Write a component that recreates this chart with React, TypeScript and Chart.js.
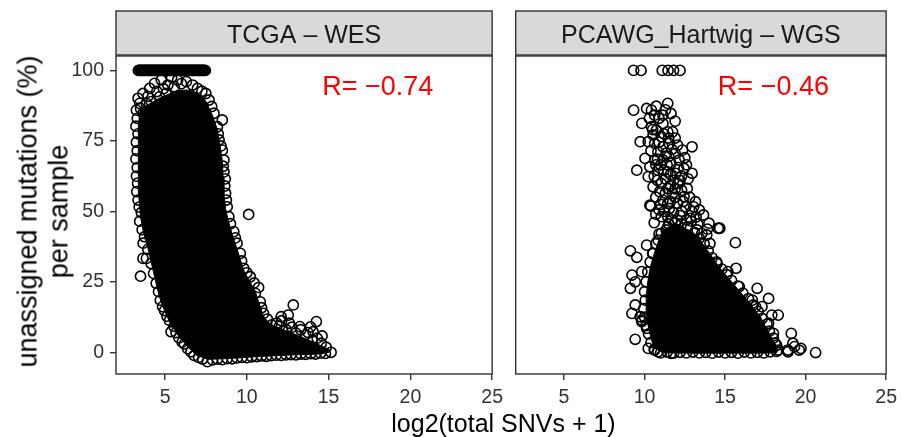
import React, { useEffect, useRef } from 'react';
import { Chart, registerables } from 'chart.js';
Chart.register(...registerables);

// ---------- axes ----------
const xTicks = [5, 10, 15, 20, 25];
const yTicks = [0, 25, 50, 75, 100];
const xRange = [2, 25];
const yRange = [-7.7, 105.1];
const panelTitles = ['TCGA – WES', 'PCAWG_Hartwig – WGS'];
const rLabels = ['R= −0.74', 'R= −0.46'];
const rLabelAt = [18, 91.2];
const xTitle = 'log2(total SNVs + 1)';
const yTitle = ['unassigned mutations (%)', 'per sample'];

// ---------- TCGA – WES ----------
const tcgaTopX = [3.37,3.42,3.48,3.55,3.6,3.66,3.73,3.79,3.84,3.9,3.97,4.03,4.08,4.15,4.21,4.26,4.33,4.39,4.45,4.5,4.57,4.63,4.69,4.74,4.81,4.87,4.92,4.99,5.05,5.11,5.16,5.23,5.29,5.34,5.41,5.47,5.52,5.59,5.65,5.71,5.76,5.83,5.89,5.94,6.01,6.07,6.12,6.19,6.25,6.31,6.36,6.43,6.49,6.54,6.61,6.67,6.72,6.79,6.85,6.91,6.96,7.03,7.09,7.14,7.21,7.27,7.32,7.39,7.46];
const tcgaFringe = [[3.35,90.1],[3.65,91.8],[4.06,93.6],[4.36,95.4],[4.77,96.6],[5.17,94.8],[5.57,94.2],[5.77,96.6],[3.45,88.3],[3.86,88.3],[4.16,88.9],[4.66,90.6],[5.06,91.8],[3.25,85.9],[3.65,84.8],[4.5,92.5],[3.95,90.8],[6.0,95.3],[6.3,96],[6.68,94.8],[6.98,93.6],[7.25,92.6],[7.49,91.8],[7.69,89.5],[7.85,87.2],[7.99,84.8],[5.4,97.5],[4.9,93.5],[3.5,86.5]];
const tcgaLeft = [[3.3,83],[3.22,80.2],[3.35,77.5],[3.25,74.5],[3.3,71.5],[3.22,68.6],[3.3,65.5],[3.25,62.5],[3.32,60],[3.27,57],[3.35,54],[3.42,51.5],[3.55,49.6],[3.45,46.5],[3.6,43.5],[3.66,38.7],[3.65,33.3],[3.86,33.3],[3.5,27],[3.75,41],[3.95,36.5],[4.15,31.5],[4.3,28],[4.46,24.5],[4.6,21.5],[4.71,18.5],[4.85,16.2],[4.97,14.8],[5.12,12.8],[5.27,11.3],[5.37,7.3],[5.67,7.0],[5.55,9.2],[5.85,5.1],[6.05,3.6],[6.18,3.0],[6.38,1.3],[6.58,0.2],[6.78,-1.1],[7.05,-1.8],[7.3,-2.4],[7.59,-3.3]];
const tcgaBottom = [[7.9,-2.7],[8.2,-2.4],[8.5,-2.6],[8.8,-2.2],[9.1,-2.3],[9.4,-2.0],[9.7,-1.8],[10.0,-1.9],[10.3,-1.6],[10.6,-1.5],[10.9,-1.3],[11.2,-1.4],[11.5,-1.2],[11.8,-1.0],[12.1,-1.1],[12.4,-0.9],[12.7,-0.8],[13.0,-0.9],[13.3,-0.6],[13.6,-0.7],[13.9,-0.5],[14.2,-0.6],[14.5,-0.3],[14.8,-0.4],[15.15,0]];
const tcgaRight = [[8.5,82.4],[8.2,80],[8.25,77.5],[8.3,75.3],[8.42,73.2],[8.5,71.7],[8.6,68.2],[8.55,66],[8.6,64],[8.68,61.5],[8.65,59],[8.7,56.4],[8.75,54],[8.8,51.6],[8.9,48.1],[10.11,48.9],[9.0,45.6],[9.2,42.8],[9.3,40.6],[9.4,38.7],[9.6,35.1],[9.68,32.4],[9.81,29.8],[10.0,28.2],[10.21,26.8],[10.45,24.6],[10.72,23.0],[10.52,20.9],[10.82,17.9],[10.9,15.8],[11.02,13.8],[11.25,11.8],[11.52,9.7],[11.83,10.3]];
const tcgaTail = [[12.13,11.2],[12.1,12.6],[12.53,13.2],[12.84,16.8],[12.6,10.3],[12.75,8.9],[13.24,9.1],[13.3,8.0],[13.6,6.2],[13.74,7.0],[14.05,7.3],[14.25,10.9],[14.3,5.0],[14.55,3.2],[14.85,1.8],[14.0,4.2],[12.4,8.0],[12.0,9.3],[13.0,6.8],[14.6,5.8],[13.9,9.0]];
const tcgaCore = [[3.45,86],[4.0,88],[4.6,90],[5.2,91.5],[5.8,93],[6.4,93],[7.0,92],[7.5,89],[7.9,84],[8.2,79],[8.35,74],[8.5,68],[8.55,62],[8.6,56],[8.7,51],[8.85,47],[9.1,42],[9.35,37.5],[9.6,33],[9.85,28.5],[10.2,25],[10.55,21],[10.8,16.5],[11.0,13],[11.4,10],[12.0,8.5],[12.7,7],[13.5,5],[14.3,3],[14.9,1.2],[15.0,0],[14.5,-0.6],[13.5,-0.8],[12.5,-1],[11.5,-1.3],[10.5,-1.6],[9.5,-2],[8.5,-2.3],[7.6,-2.5],[6.9,-1],[6.3,2.5],[5.8,6],[5.4,9.5],[5.1,13],[4.8,17],[4.55,22],[4.35,27],[4.15,32],[3.95,37],[3.7,42],[3.5,48],[3.4,55],[3.35,65],[3.35,75],[3.4,82]];

// ---------- PCAWG_Hartwig – WGS ----------
const hartwigTopX = [9.32, 9.78, 11.1, 11.46, 11.8, 12.2];
const hartwigRidge = [[9.32,85.9],[10.13,86.5],[10.43,85.9],[10.73,87.3],[11.44,88.3],[11.64,84.7],[11.14,84.1],[10.63,84.1],[9.83,81.2],[10.43,80.0],[10.73,78.8],[11.14,81.2],[11.44,78.2],[11.74,78.2],[11.04,76.5],[10.53,77.1],[9.73,74.7],[10.23,74.7],[10.63,74.1],[11.14,72.9],[11.54,74.1],[12.05,73.5],[12.35,71.7],[12.95,72.9],[11.34,70.6],[10.83,71.1],[10.03,68.8],[10.63,68.2],[11.14,68.2],[11.64,67.0],[12.15,68.2],[12.45,65.2],[12.95,63.5],[9.52,64.6],[10.33,65.8],[10.83,64.6],[11.44,64.0],[11.94,63.5],[10.23,62.3],[10.53,58.7],[11.04,59.9],[11.44,58.1],[12.05,59.9],[12.65,58.1],[11.74,56.4],[10.94,57.0],[10.33,52.2],[11.14,54.0],[11.54,51.0],[12.05,52.8],[12.55,51.6],[12.95,49.9],[13.66,48.7],[11.44,48.1],[12.05,46.9],[11.04,48.1],[12.45,55.2],[13.16,53.4],[11.44,44.5],[12.05,43.4],[12.65,44.5],[13.26,43.4],[13.86,41.6],[14.57,44.0],[11.74,41.0],[12.35,39.8],[11.04,42.2],[11.3,61.5],[11.8,61],[11.2,50],[11.8,49.5],[12.3,50],[11.6,53.5],[10.9,50.5],[12.3,62.5],[11.0,66.5],[11.9,70.5],[11.5,76],[12.6,47],
  [10.9,83],[11.3,86],[10.3,83],[11.9,82],[10.5,79],[11.2,77.5],[11.9,76],[10.9,74.5],[11.7,72],[10.4,71.5],[11.5,69.5],[12.5,69],[10.7,66.5],[11.4,66.5],[12.1,65.5],[10.6,62.5],[11.6,63],[12.2,61],[10.8,61],[11.3,56.5],[12.3,57.5],[10.7,55],[11.9,55],[12.8,55],[11.0,52.5],[12.4,53.5],[13.4,50.5],[11.7,47],[12.9,46.5],[13.2,48],[10.6,46],[10.7,49],[12.2,48.5],[11.6,59],[10.8,68.5],[12.7,61.5],[12.6,66.5],[11.9,58],[11.2,64.5],[13.3,45.5],[14.0,45.8],[13.9,43.7]];
const hartwigFringe = [[10.39,51.9],[11.44,52.8],[13.05,51.6],[12.85,47.5],[14.67,44.0],[14.06,38.6],[15.64,38.9],[13.56,42.2],[11.34,43.4],[10.84,39.8],[10.13,38.0],[10.53,35.1],[9.12,36.0],[9.52,33.7],[14.47,32.1],[15.17,28.6],[15.68,29.8],[9.22,27.4],[9.83,28.6],[15.88,23.3],[16.99,22.7],[16.69,18.5],[17.7,19.1],[18.3,13.2],[17.29,16.2],[9.12,22.7],[9.42,25.0],[9.42,16.8],[9.22,13.8],[9.83,11.4],[9.73,12.6],[9.83,10.9],[10.13,8.5],[9.42,4.6],[10.23,1.4],[10.63,0.8],[10.84,0.2],[11.64,-0.4],[19.11,6.7],[19.71,1.4],[18.91,0.2],[19.31,2.0],[18.1,3.2],[20.62,-0.1],[17.9,13.2],[17.7,10.3],[18.0,6.7],[19.21,3.2],[18.9,0.8],[19.6,0.8],[18.3,0.8],[16.89,16.2]];
const hartwigEdge = [[10.9,42],[10.7,38.5],[10.5,35],[10.35,32],[10.2,28.5],[10.1,25],[10.0,21.5],[10.05,18.5],[9.95,15.5],[10.0,12.5],[10.1,9.5],[10.25,6.5],[10.4,3.5],[10.6,1.0],[11.0,-0.2],[11.4,0.1],[11.8,-0.3],[12.2,0],[12.6,-0.2],[13.0,0.1],[13.4,-0.2],[13.8,0],[14.2,-0.3],[14.6,0.1],[15.0,-0.2],[15.4,0],[15.8,-0.3],[16.2,0.1],[16.6,-0.2],[17.0,0],[17.4,-0.2],[17.8,0.2],[18.2,0.3],[18.2,2.5],[18.0,5.0],[17.75,7.5],[17.6,10],[17.3,12],[17.05,14.5],[16.75,16.8],[16.45,19],[16.1,21],[15.8,23.5],[15.4,25.5],[15.1,27.5],[14.8,29.5],[14.5,31.5],[14.2,33.5],[13.95,36],[13.7,38.5],[13.4,40.5],[13.1,42.5],[12.7,44.5],[12.3,45.5],[11.9,46],[11.5,45.5]];
const hartwigCore = [[11.3,44],[12.0,45],[12.7,43.5],[13.3,41],[13.8,37],[14.3,33],[14.8,29],[15.4,25],[16.0,21],[16.6,17],[17.2,12.5],[17.6,8],[18.0,4],[18.3,1],[18.2,-0.2],[17,-0.3],[15,-0.3],[13,-0.3],[11.2,-0.2],[10.6,1.5],[10.4,5],[10.2,10],[10.1,15],[10.1,20],[10.2,25],[10.35,30],[10.6,35],[10.9,40],[11.1,43]];

const FONT = '"Liberation Sans", Arial, Helvetica, sans-serif';
const toXY = (arr: number[][]) => arr.map(([x, y]) => ({ x, y }));

const decorPlugin = {
  id: 'panelDecor',
  afterDatasetsDraw(chart: any, _args: any, opts: any) {
    const { ctx, chartArea: a, scales } = chart;
    ctx.save();
    ctx.fillStyle = '#FF0000';
    ctx.font = `27px ${FONT}`;
    ctx.textAlign = 'center';
    ctx.textBaseline = 'alphabetic';
    ctx.fillText(opts.label, scales.x.getPixelForValue(rLabelAt[0]), scales.y.getPixelForValue(rLabelAt[1]));
    ctx.strokeStyle = '#333333';
    ctx.lineWidth = 1.4;
    ctx.strokeRect(a.left, a.top, a.right - a.left, a.bottom - a.top);
    const sTop = a.top - 45;
    const sH = 44;
    ctx.fillStyle = '#D9D9D9';
    ctx.fillRect(a.left, sTop, a.right - a.left, sH);
    ctx.strokeRect(a.left, sTop, a.right - a.left, sH);
    ctx.fillStyle = '#1A1A1A';
    ctx.font = `25px ${FONT}`;
    ctx.fillText(opts.title, (a.left + a.right) / 2, sTop + 31.5);
    ctx.restore();
  },
};

type PanelProps = {
  left: number; width: number; padL: number; padR: number; showY: boolean;
  title: string; label: string; core: number[][]; pts: number[][]; topX: number[];
};

function Panel(p: PanelProps) {
  const ref = useRef<HTMLCanvasElement>(null);
  useEffect(() => {
    if (!ref.current) return;
    const tickFont = { family: FONT, size: 19.5 };
    const points = [...toXY(p.pts), ...p.topX.map((x) => ({ x, y: 100 }))];
    const chart = new Chart(ref.current, {
      type: 'scatter',
      data: {
        datasets: [
          {
            type: 'line',
            data: toXY(p.core),
            fill: 'shape',
            backgroundColor: '#000000',
            borderColor: '#000000',
            borderWidth: 1,
            pointRadius: 0,
            tension: 0,
          } as any,
          {
            type: 'scatter',
            data: points,
            pointRadius: 5.1,
            pointHoverRadius: 5.1,
            borderWidth: 1.6,
            borderColor: '#000000',
            backgroundColor: 'rgba(0,0,0,0)',
          } as any,
        ],
      },
      options: {
        animation: false,
        responsive: false,
        events: [],
        layout: { padding: { left: p.padL, right: p.padR, top: 56, bottom: 0 } },
        plugins: {
          legend: { display: false },
          tooltip: { enabled: false },
          panelDecor: { title: p.title, label: p.label },
        } as any,
        scales: {
          x: {
            type: 'linear',
            min: xRange[0],
            max: xRange[1],
            afterBuildTicks: (s: any) => { s.ticks = xTicks.map((v) => ({ value: v })); },
            afterFit: (s: any) => { s.height = 63; },
            border: { display: false },
            grid: { display: true, drawOnChartArea: false, drawTicks: true, tickLength: 6, color: '#333333', lineWidth: 1.4 },
            ticks: { font: tickFont, color: '#333333', padding: 6, maxRotation: 0 },
          },
          y: {
            type: 'linear',
            display: p.showY,
            min: yRange[0],
            max: yRange[1],
            afterBuildTicks: (s: any) => { s.ticks = yTicks.map((v) => ({ value: v })); },
            afterFit: (s: any) => { s.width = p.showY ? 116 : 0; },
            border: { display: false },
            grid: { display: true, drawOnChartArea: false, drawTicks: true, tickLength: 6, color: '#333333', lineWidth: 1.4 },
            ticks: { font: tickFont, color: '#333333', padding: 6 },
          },
        },
      } as any,
      plugins: [decorPlugin],
    });
    return () => chart.destroy();
  }, []);
  return (
    <canvas
      ref={ref}
      width={p.width}
      height={437}
      style={{ position: 'absolute', left: p.left, top: 0, width: p.width, height: 437 }}
    />
  );
}

export default function App() {
  return (
    <div style={{ position: 'absolute', left: 0, top: 0, width: 903, height: 437, background: '#fff', overflow: 'hidden' }}>
      <Panel left={0} width={509} padL={0} padR={12.5} showY={true}
        title={panelTitles[0]} label={rLabels[0]} core={tcgaCore}
        pts={[...tcgaFringe, ...tcgaLeft, ...tcgaBottom, ...tcgaRight, ...tcgaTail]} topX={tcgaTopX} />
      <Panel left={509} width={394} padL={1.7} padR={12.3} showY={false}
        title={panelTitles[1]} label={rLabels[1]} core={hartwigCore}
        pts={[...hartwigRidge, ...hartwigFringe, ...hartwigEdge]} topX={hartwigTopX} />
      <div style={{ position: 'absolute', left: 303.5, top: 409, width: 400, height: 25, lineHeight: '25px', textAlign: 'center', font: `25px ${FONT}`, color: '#000', whiteSpace: 'nowrap' }}>
        {xTitle}
      </div>
      <div style={{ position: 'absolute', left: 37 - 170, top: 211 - 24.5, width: 340, height: 49, lineHeight: '24.5px', textAlign: 'center', font: `27px ${FONT}`, color: '#000', whiteSpace: 'nowrap', transform: 'rotate(-90deg)' }}>
        {yTitle[0]}<br />{yTitle[1]}
      </div>
    </div>
  );
}
